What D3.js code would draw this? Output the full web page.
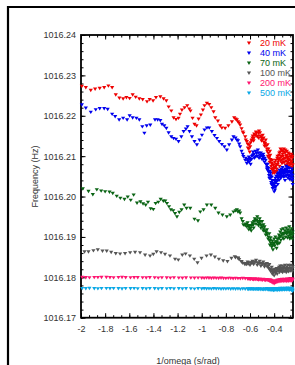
<!DOCTYPE html>
<html><head><meta charset="utf-8">
<script src="https://cdn.jsdelivr.net/npm/d3@7"></script>
<style>body{margin:0;background:#fff}svg{display:block}</style>
</head><body><svg id="c" width="295" height="365"></svg>
<script>
const seriesNames = ["20 mK","40 mK","70 mK","100 mK","200 mK","500 mK"];
const seriesColors = ["#ee0000","#0000ee","#0a6414","#555555","#ff1470","#0aa8e6"];
const xTicks = [-2,-1.8,-1.6,-1.4,-1.2,-1,-0.8,-0.6,-0.4];
const xTickLabels = ["-2","-1.8","-1.6","-1.4","-1.2","-1","-0.8","-0.6","-0.4"];
const yTicks = [1016.17,1016.18,1016.19,1016.20,1016.21,1016.22,1016.23,1016.24];
const yTickLabels = ["1016.17","1016.18","1016.19","1016.20","1016.21","1016.22","1016.23","1016.24"];

const s20 = [[-1.993,1016.2273],[-1.960,1016.2270],[-1.919,1016.2263],[-1.883,1016.2266],[-1.845,1016.2268],[-1.808,1016.2270],[-1.773,1016.2274],[-1.742,1016.2270],[-1.712,1016.2252],[-1.682,1016.2244],[-1.651,1016.2242],[-1.624,1016.2245],[-1.597,1016.2243],[-1.572,1016.2252],[-1.547,1016.2246],[-1.517,1016.2242],[-1.489,1016.2240],[-1.453,1016.2235],[-1.431,1016.2240],[-1.403,1016.2237],[-1.379,1016.2245],[-1.343,1016.2247],[-1.316,1016.2242],[-1.293,1016.2237],[-1.274,1016.2222],[-1.252,1016.2212],[-1.233,1016.2195],[-1.213,1016.2191],[-1.192,1016.2194],[-1.180,1016.2204],[-1.164,1016.2214],[-1.142,1016.2220],[-1.120,1016.2225],[-1.103,1016.2217],[-1.093,1016.2212],[-1.076,1016.2194],[-1.060,1016.2179],[-1.043,1016.2175],[-1.026,1016.2192],[-1.007,1016.2202],[-0.990,1016.2214],[-0.977,1016.2225],[-0.957,1016.2231],[-0.938,1016.2228],[-0.921,1016.2220],[-0.902,1016.2210],[-0.888,1016.2195],[-0.866,1016.2187],[-0.847,1016.2175],[-0.833,1016.2170],[-0.806,1016.2169],[-0.779,1016.2175],[-0.750,1016.2185],[-0.731,1016.2195],[-0.709,1016.2190],[-0.682,1016.2177],[-0.655,1016.2157],[-0.626,1016.2136],[-0.599,1016.2123],[-0.585,1016.2140],[-0.558,1016.2152],[-0.531,1016.2157],[-0.502,1016.2144],[-0.475,1016.2132],[-0.448,1016.2107],[-0.420,1016.2082],[-0.393,1016.2070],[-0.365,1016.2090],[-0.337,1016.2099],[-0.310,1016.2095],[-0.283,1016.2090],[-0.255,1016.2086],
[-0.62,1016.2130],[-0.61,1016.2118],[-0.595,1016.2133],[-0.58,1016.2145],[-0.57,1016.2138],[-0.565,1016.2155],[-0.55,1016.2160],[-0.54,1016.2148],[-0.525,1016.2162],[-0.515,1016.2150],[-0.505,1016.2138],[-0.495,1016.2152],[-0.485,1016.2135],[-0.48,1016.2125],[-0.47,1016.2140],[-0.46,1016.2118],[-0.455,1016.2128],[-0.44,1016.2100],[-0.435,1016.2112],[-0.43,1016.2092],[-0.425,1016.2075],[-0.415,1016.2090],[-0.41,1016.2065],[-0.405,1016.2078],[-0.40,1016.2058],[-0.395,1016.2085],[-0.385,1016.2075],[-0.38,1016.2062],[-0.375,1016.2095],[-0.37,1016.2080],[-0.36,1016.2102],[-0.355,1016.2075],[-0.35,1016.2110],[-0.345,1016.2088],[-0.34,1016.2115],[-0.335,1016.2082],[-0.33,1016.2105],[-0.325,1016.2092],[-0.32,1016.2118],[-0.315,1016.2085],[-0.31,1016.2108],[-0.305,1016.2078],[-0.30,1016.2100],[-0.295,1016.2112],[-0.29,1016.2085],[-0.285,1016.2098],[-0.28,1016.2075],[-0.275,1016.2105],[-0.27,1016.2090],[-0.265,1016.2080],[-0.26,1016.2100],[-0.255,1016.2072],[-0.25,1016.2095],[-0.247,1016.2078],
[-0.4475,1016.2118],[-0.4425,1016.2095],[-0.4375,1016.2085],[-0.4325,1016.2102],[-0.4275,1016.2088],[-0.4225,1016.2068],[-0.4175,1016.2080],[-0.4125,1016.2058],[-0.4075,1016.2070],[-0.4025,1016.2062],[-0.3975,1016.2072],[-0.3925,1016.2060],[-0.3875,1016.2090],[-0.3825,1016.2080],[-0.3775,1016.2068],[-0.3725,1016.2100],[-0.3675,1016.2085],[-0.3625,1016.2092],[-0.3575,1016.2108],[-0.3525,1016.2095],[-0.3475,1016.2118],[-0.3425,1016.2100],[-0.3375,1016.2090],[-0.3325,1016.2112],[-0.3275,1016.2100],[-0.3225,1016.2085],[-0.3175,1016.2110],[-0.3125,1016.2095],[-0.3075,1016.2115],[-0.3025,1016.2088],[-0.2975,1016.2102],[-0.2925,1016.2095],[-0.2875,1016.2080],[-0.2825,1016.2108],[-0.2775,1016.2092],[-0.2725,1016.2082],[-0.2675,1016.2098],[-0.2625,1016.2088],[-0.2575,1016.2105],[-0.2525,1016.2080],[-0.2485,1016.2100],
[-0.6175,1016.2120],[-0.6075,1016.2128],[-0.6025,1016.2110],[-0.5875,1016.2138],[-0.5775,1016.2150],[-0.5675,1016.2145],[-0.5575,1016.2152],[-0.5475,1016.2158],[-0.5375,1016.2150],[-0.5275,1016.2145],[-0.5175,1016.2158],[-0.5075,1016.2148],[-0.4975,1016.2140],[-0.4875,1016.2145],[-0.4775,1016.2130],[-0.4675,1016.2125],[-0.4575,1016.2112],[-0.4525,1016.2100],
[-0.72,1016.2192],[-0.70,1016.2185],[-0.69,1016.2182],[-0.67,1016.2168],[-0.66,1016.2160],[-0.64,1016.2148],[-0.635,1016.2140]];

const s40 = [[-1.993,1016.2227],[-1.960,1016.2219],[-1.919,1016.2209],[-1.878,1016.2215],[-1.845,1016.2218],[-1.808,1016.2218],[-1.779,1016.2216],[-1.742,1016.2204],[-1.717,1016.2198],[-1.684,1016.2190],[-1.651,1016.2194],[-1.618,1016.2190],[-1.597,1016.2200],[-1.572,1016.2195],[-1.541,1016.2194],[-1.517,1016.2190],[-1.492,1016.2173],[-1.475,1016.2157],[-1.456,1016.2175],[-1.426,1016.2177],[-1.387,1016.2190],[-1.365,1016.2190],[-1.343,1016.2188],[-1.329,1016.2179],[-1.310,1016.2175],[-1.293,1016.2169],[-1.274,1016.2158],[-1.252,1016.2148],[-1.233,1016.2144],[-1.213,1016.2142],[-1.192,1016.2136],[-1.169,1016.2148],[-1.150,1016.2161],[-1.131,1016.2167],[-1.117,1016.2173],[-1.101,1016.2161],[-1.081,1016.2148],[-1.060,1016.2136],[-1.040,1016.2128],[-1.018,1016.2140],[-0.998,1016.2152],[-0.977,1016.2165],[-0.957,1016.2170],[-0.938,1016.2170],[-0.916,1016.2161],[-0.894,1016.2151],[-0.874,1016.2144],[-0.855,1016.2136],[-0.833,1016.2129],[-0.812,1016.2123],[-0.792,1016.2115],[-0.773,1016.2128],[-0.750,1016.2140],[-0.737,1016.2148],[-0.709,1016.2140],[-0.682,1016.2123],[-0.655,1016.2099],[-0.626,1016.2082],[-0.599,1016.2090],[-0.572,1016.2103],[-0.544,1016.2107],[-0.517,1016.2103],[-0.489,1016.2099],[-0.461,1016.2078],[-0.434,1016.2053],[-0.407,1016.2024],[-0.393,1016.2016],[-0.379,1016.2037],[-0.351,1016.2053],[-0.324,1016.2062],[-0.296,1016.2066],[-0.269,1016.2062],[-0.247,1016.2053],
[-0.62,1016.2088],[-0.61,1016.2098],[-0.595,1016.2080],[-0.585,1016.2100],[-0.575,1016.2110],[-0.565,1016.2095],[-0.555,1016.2112],[-0.545,1016.2100],[-0.535,1016.2115],[-0.525,1016.2095],[-0.51,1016.2108],[-0.50,1016.2092],[-0.49,1016.2105],[-0.48,1016.2085],[-0.47,1016.2090],[-0.46,1016.2068],[-0.455,1016.2080],[-0.445,1016.2060],[-0.44,1016.2045],[-0.43,1016.2058],[-0.425,1016.2035],[-0.42,1016.2048],[-0.415,1016.2028],[-0.41,1016.2040],[-0.40,1016.2012],[-0.398,1016.2030],[-0.39,1016.2045],[-0.385,1016.2025],[-0.375,1016.2050],[-0.37,1016.2030],[-0.365,1016.2058],[-0.36,1016.2040],[-0.355,1016.2065],[-0.345,1016.2045],[-0.34,1016.2068],[-0.335,1016.2050],[-0.33,1016.2072],[-0.32,1016.2048],[-0.315,1016.2065],[-0.31,1016.2040],[-0.305,1016.2060],[-0.30,1016.2075],[-0.295,1016.2052],[-0.29,1016.2068],[-0.285,1016.2045],[-0.28,1016.2060],[-0.275,1016.2070],[-0.27,1016.2042],[-0.265,1016.2058],[-0.26,1016.2048],[-0.255,1016.2068],[-0.25,1016.2040],[-0.247,1016.2030],
[-0.6175,1016.2092],[-0.6075,1016.2085],[-0.6025,1016.2095],[-0.5875,1016.2092],[-0.5775,1016.2102],[-0.5675,1016.2105],[-0.5575,1016.2098],[-0.5475,1016.2108],[-0.5375,1016.2100],[-0.5275,1016.2108],[-0.5175,1016.2098],[-0.5075,1016.2102],[-0.4975,1016.2098],[-0.4875,1016.2092],[-0.4775,1016.2095],[-0.4675,1016.2080],[-0.4575,1016.2072],[-0.4525,1016.2065],[-0.4475,1016.2070],[-0.4425,1016.2052],[-0.4375,1016.2062],[-0.4325,1016.2045],[-0.4275,1016.2050],[-0.4225,1016.2030],[-0.4175,1016.2040],[-0.4125,1016.2020],[-0.4075,1016.2032],[-0.4025,1016.2025],[-0.3975,1016.2040],[-0.3925,1016.2022],[-0.3875,1016.2035],[-0.3825,1016.2050],[-0.3775,1016.2040],[-0.3725,1016.2055],[-0.3675,1016.2045],[-0.3625,1016.2050],[-0.3575,1016.2058],[-0.3525,1016.2048],[-0.3475,1016.2060],[-0.3425,1016.2055],[-0.3375,1016.2062],[-0.3325,1016.2058],[-0.3275,1016.2065],[-0.3225,1016.2055],[-0.3175,1016.2050],[-0.3125,1016.2058],[-0.3075,1016.2068],[-0.3025,1016.2050],[-0.2975,1016.2062],[-0.2925,1016.2058],[-0.2875,1016.2072],[-0.2825,1016.2052],[-0.2775,1016.2050],[-0.2725,1016.2062],[-0.2675,1016.2050],[-0.2625,1016.2060],[-0.2575,1016.2055],[-0.2525,1016.2062],[-0.2485,1016.2045],
[-0.72,1016.2145],[-0.70,1016.2138],[-0.69,1016.2130],[-0.67,1016.2112],[-0.66,1016.2105],[-0.64,1016.2090],[-0.635,1016.2095]];

const s70 = [[-1.985,1016.2019],[-1.938,1016.2013],[-1.902,1016.2005],[-1.869,1016.2017],[-1.833,1016.2014],[-1.800,1016.2012],[-1.764,1016.2011],[-1.737,1016.2008],[-1.704,1016.2001],[-1.674,1016.1996],[-1.640,1016.1993],[-1.613,1016.1999],[-1.588,1016.1991],[-1.564,1016.2004],[-1.536,1016.1984],[-1.508,1016.1987],[-1.486,1016.1982],[-1.464,1016.1979],[-1.445,1016.1986],[-1.423,1016.1970],[-1.401,1016.1968],[-1.382,1016.1983],[-1.360,1016.1986],[-1.340,1016.1993],[-1.318,1016.1989],[-1.302,1016.1989],[-1.288,1016.1983],[-1.271,1016.1975],[-1.255,1016.1967],[-1.236,1016.1965],[-1.221,1016.1958],[-1.205,1016.1950],[-1.186,1016.1961],[-1.167,1016.1967],[-1.145,1016.1979],[-1.126,1016.1971],[-1.095,1016.1971],[-1.060,1016.1944],[-1.031,1016.1940],[-1.012,1016.1962],[-0.985,1016.1967],[-0.957,1016.1979],[-0.921,1016.1979],[-0.888,1016.1971],[-0.861,1016.1959],[-0.828,1016.1954],[-0.792,1016.1950],[-0.764,1016.1954],[-0.737,1016.1962],[-0.709,1016.1967],[-0.682,1016.1959],[-0.655,1016.1930],[-0.626,1016.1925],[-0.599,1016.1921],[-0.572,1016.1930],[-0.544,1016.1942],[-0.517,1016.1938],[-0.489,1016.1930],[-0.461,1016.1909],[-0.434,1016.1892],[-0.407,1016.1884],[-0.379,1016.1888],[-0.351,1016.1901],[-0.324,1016.1909],[-0.296,1016.1913],[-0.269,1016.1909],[-0.250,1016.1905],
[-0.62,1016.1935],[-0.61,1016.1918],[-0.60,1016.1928],[-0.59,1016.1915],[-0.58,1016.1935],[-0.57,1016.1922],[-0.56,1016.1945],[-0.55,1016.1932],[-0.54,1016.1950],[-0.53,1016.1928],[-0.52,1016.1945],[-0.51,1016.1922],[-0.50,1016.1938],[-0.49,1016.1915],[-0.48,1016.1925],[-0.47,1016.1905],[-0.46,1016.1918],[-0.45,1016.1895],[-0.44,1016.1908],[-0.435,1016.1880],[-0.43,1016.1898],[-0.42,1016.1875],[-0.415,1016.1890],[-0.41,1016.1868],[-0.40,1016.1895],[-0.395,1016.1878],[-0.39,1016.1900],[-0.38,1016.1872],[-0.375,1016.1895],[-0.37,1016.1882],[-0.36,1016.1905],[-0.355,1016.1885],[-0.35,1016.1912],[-0.345,1016.1892],[-0.34,1016.1918],[-0.33,1016.1898],[-0.325,1016.1920],[-0.32,1016.1895],[-0.31,1016.1915],[-0.305,1016.1900],[-0.30,1016.1922],[-0.29,1016.1898],[-0.285,1016.1918],[-0.28,1016.1902],[-0.275,1016.1925],[-0.27,1016.1895],[-0.265,1016.1915],[-0.26,1016.1900],[-0.255,1016.1920],[-0.25,1016.1895],[-0.247,1016.1912],
[-0.6175,1016.1928],[-0.6075,1016.1925],[-0.5975,1016.1920],[-0.5875,1016.1928],[-0.5775,1016.1930],[-0.5675,1016.1938],[-0.5575,1016.1940],[-0.5475,1016.1942],[-0.5375,1016.1938],[-0.5275,1016.1935],[-0.5175,1016.1932],[-0.5075,1016.1928],[-0.4975,1016.1925],[-0.4875,1016.1920],[-0.4775,1016.1915],[-0.4675,1016.1912],[-0.4575,1016.1905],[-0.4475,1016.1900],[-0.4375,1016.1890],[-0.4275,1016.1885],[-0.4175,1016.1880],[-0.4075,1016.1880],[-0.3975,1016.1885],[-0.3875,1016.1888],[-0.3775,1016.1885],[-0.3675,1016.1895],[-0.3575,1016.1898],[-0.3475,1016.1902],[-0.3375,1016.1908],[-0.3275,1016.1905],[-0.3175,1016.1908],[-0.3075,1016.1910],[-0.2975,1016.1908],[-0.2875,1016.1910],[-0.2775,1016.1912],[-0.2675,1016.1905],[-0.2575,1016.1910],[-0.2485,1016.1905],
[-0.72,1016.1965],[-0.70,1016.1962],[-0.69,1016.1964],[-0.67,1016.1945],[-0.66,1016.1938],[-0.64,1016.1928],[-0.635,1016.1932]];

const s100 = [[-1.971,1016.1863],[-1.938,1016.1863],[-1.897,1016.1866],[-1.861,1016.1868],[-1.822,1016.1865],[-1.787,1016.1865],[-1.750,1016.1862],[-1.712,1016.1859],[-1.676,1016.1858],[-1.635,1016.1859],[-1.593,1016.1861],[-1.552,1016.1862],[-1.511,1016.1861],[-1.469,1016.1855],[-1.428,1016.1853],[-1.401,1016.1857],[-1.374,1016.1863],[-1.337,1016.1861],[-1.304,1016.1857],[-1.263,1016.1853],[-1.221,1016.1845],[-1.194,1016.1843],[-1.161,1016.1855],[-1.134,1016.1858],[-1.098,1016.1853],[-1.062,1016.1845],[-1.035,1016.1836],[-1.002,1016.1847],[-0.960,1016.1853],[-0.924,1016.1855],[-0.891,1016.1850],[-0.858,1016.1845],[-0.822,1016.1841],[-0.787,1016.1839],[-0.754,1016.1847],[-0.726,1016.1851],[-0.698,1016.1847],[-0.671,1016.1839],[-0.643,1016.1832],[-0.616,1016.1833],[-0.588,1016.1836],[-0.560,1016.1838],[-0.533,1016.1836],[-0.506,1016.1835],[-0.478,1016.1833],[-0.450,1016.1828],[-0.423,1016.1818],[-0.409,1016.1810],[-0.382,1016.1814],[-0.354,1016.1820],[-0.326,1016.1822],[-0.299,1016.1820],[-0.258,1016.1822],
[-0.62,1016.1838],[-0.60,1016.1830],[-0.58,1016.1840],[-0.57,1016.1832],[-0.55,1016.1842],[-0.54,1016.1830],[-0.52,1016.1840],[-0.51,1016.1828],[-0.49,1016.1838],[-0.48,1016.1826],[-0.46,1016.1834],[-0.445,1016.1822],[-0.44,1016.1832],[-0.43,1016.1815],[-0.42,1016.1825],[-0.415,1016.1808],[-0.41,1016.1818],[-0.40,1016.1804],[-0.395,1016.1820],[-0.39,1016.1810],[-0.38,1016.1822],[-0.375,1016.1808],[-0.37,1016.1818],[-0.36,1016.1825],[-0.355,1016.1812],[-0.35,1016.1828],[-0.34,1016.1815],[-0.335,1016.1828],[-0.33,1016.1812],[-0.32,1016.1826],[-0.315,1016.1815],[-0.31,1016.1830],[-0.30,1016.1812],[-0.295,1016.1826],[-0.29,1016.1816],[-0.285,1016.1830],[-0.28,1016.1814],[-0.27,1016.1828],[-0.265,1016.1816],[-0.26,1016.1830],[-0.25,1016.1815],[-0.247,1016.1826],
[-0.6175,1016.1835],[-0.5975,1016.1836],[-0.5775,1016.1836],[-0.5575,1016.1838],[-0.5375,1016.1835],[-0.5175,1016.1834],[-0.4975,1016.1832],[-0.4775,1016.1830],[-0.4575,1016.1826],[-0.4475,1016.1828],[-0.4375,1016.1820],[-0.4275,1016.1818],[-0.4175,1016.1815],[-0.4075,1016.1812],[-0.3975,1016.1814],[-0.3875,1016.1816],[-0.3775,1016.1815],[-0.3675,1016.1820],[-0.3575,1016.1818],[-0.3475,1016.1822],[-0.3375,1016.1820],[-0.3275,1016.1820],[-0.3175,1016.1822],[-0.3075,1016.1820],[-0.2975,1016.1822],[-0.2875,1016.1820],[-0.2775,1016.1822],[-0.2675,1016.1822],[-0.2575,1016.1820],[-0.2485,1016.1822],
[-0.72,1016.1849],[-0.70,1016.1848],[-0.69,1016.1844],[-0.67,1016.1838],[-0.66,1016.1835],[-0.64,1016.1834],[-0.63,1016.1832]];

const s200 = [[-1.99,1016.18000],[-1.96,1016.17995],[-1.93,1016.17990],[-1.89,1016.17998],[-1.86,1016.17997],[-1.83,1016.18000],[-1.79,1016.18000],[-1.76,1016.17996],[-1.73,1016.17992],[-1.69,1016.17998],[-1.66,1016.18000],[-1.63,1016.17995],[-1.59,1016.17990],[-1.56,1016.17996],[-1.53,1016.17994],[-1.49,1016.17990],[-1.46,1016.17988],[-1.43,1016.17994],[-1.39,1016.17992],[-1.36,1016.17986],[-1.33,1016.17990],[-1.29,1016.17988],[-1.26,1016.17984],[-1.23,1016.17990],[-1.19,1016.17986],[-1.16,1016.17982],[-1.13,1016.17988],[-1.09,1016.17984],[-1.06,1016.17980],[-1.03,1016.17986],[-1.00,1016.17982],[-0.98,1016.17978],[-0.96,1016.17984],[-0.94,1016.17980],[-0.92,1016.17976],[-0.90,1016.17982],[-0.88,1016.17978],[-0.86,1016.17974],[-0.84,1016.17980],[-0.82,1016.17976],[-0.80,1016.17972],[-0.78,1016.17978],[-0.76,1016.17974],[-0.74,1016.17970],[-0.72,1016.17976],[-0.70,1016.17972],[-0.68,1016.17968],[-0.66,1016.17974],[-0.64,1016.17970],[-0.62,1016.17966],
[-0.61,1016.17962],[-0.60,1016.17950],[-0.59,1016.17966],[-0.58,1016.17955],[-0.57,1016.17944],[-0.56,1016.17962],[-0.55,1016.17948],[-0.54,1016.17958],[-0.53,1016.17940],[-0.52,1016.17956],[-0.51,1016.17944],[-0.50,1016.17930],[-0.49,1016.17952],[-0.48,1016.17936],[-0.47,1016.17922],[-0.46,1016.17946],[-0.45,1016.17928],[-0.44,1016.17912],[-0.435,1016.17938],[-0.43,1016.17900],[-0.425,1016.17926],[-0.42,1016.17880],[-0.415,1016.17918],[-0.41,1016.17860],[-0.405,1016.17905],[-0.40,1016.17845],[-0.395,1016.17890],[-0.39,1016.17870],[-0.385,1016.17915],[-0.38,1016.17880],[-0.375,1016.17930],[-0.37,1016.17888],[-0.365,1016.17935],[-0.36,1016.17895],[-0.355,1016.17940],[-0.35,1016.17900],[-0.345,1016.17945],[-0.34,1016.17905],[-0.335,1016.17950],[-0.33,1016.17910],[-0.325,1016.17948],[-0.32,1016.17902],[-0.315,1016.17955],[-0.31,1016.17912],[-0.305,1016.17945],[-0.30,1016.17900],[-0.295,1016.17958],[-0.29,1016.17915],[-0.285,1016.17950],[-0.28,1016.17905],[-0.275,1016.17960],[-0.27,1016.17918],[-0.265,1016.17952],[-0.26,1016.17908],[-0.255,1016.17962],[-0.25,1016.17920],[-0.247,1016.17955],
[-0.6175,1016.17960],[-0.5975,1016.17958],[-0.5775,1016.17955],[-0.5575,1016.17950],[-0.5375,1016.17948],[-0.5175,1016.17945],[-0.4975,1016.17940],[-0.4775,1016.17938],[-0.4575,1016.17932],[-0.4475,1016.17925],[-0.4375,1016.17915],[-0.4275,1016.17905],[-0.4175,1016.17895],[-0.4075,1016.17885],[-0.3975,1016.17875],[-0.3875,1016.17895],[-0.3775,1016.17905],[-0.3675,1016.17915],[-0.3575,1016.17920],[-0.3475,1016.17925],[-0.3375,1016.17928],[-0.3275,1016.17930],[-0.3175,1016.17932],[-0.3075,1016.17930],[-0.2975,1016.17935],[-0.2875,1016.17932],[-0.2775,1016.17935],[-0.2675,1016.17933],[-0.2575,1016.17938],[-0.2485,1016.17935]];

const s500 = [[-1.99,1016.17725],[-1.96,1016.17720],[-1.93,1016.17728],[-1.89,1016.17722],[-1.86,1016.17718],[-1.83,1016.17726],[-1.79,1016.17724],[-1.76,1016.17720],[-1.73,1016.17726],[-1.69,1016.17722],[-1.66,1016.17716],[-1.63,1016.17724],[-1.59,1016.17720],[-1.56,1016.17726],[-1.53,1016.17718],[-1.49,1016.17722],[-1.46,1016.17716],[-1.43,1016.17724],[-1.39,1016.17720],[-1.36,1016.17714],[-1.33,1016.17722],[-1.29,1016.17718],[-1.26,1016.17724],[-1.23,1016.17716],[-1.19,1016.17720],[-1.16,1016.17714],[-1.13,1016.17722],[-1.09,1016.17718],[-1.06,1016.17712],[-1.03,1016.17720],[-1.00,1016.17716],[-0.98,1016.17722],[-0.96,1016.17714],[-0.94,1016.17718],[-0.92,1016.17712],[-0.90,1016.17720],[-0.88,1016.17714],[-0.86,1016.17718],[-0.84,1016.17710],[-0.82,1016.17716],[-0.80,1016.17712],[-0.78,1016.17718],[-0.76,1016.17708],[-0.74,1016.17714],[-0.72,1016.17710],[-0.70,1016.17716],[-0.68,1016.17706],[-0.66,1016.17714],[-0.64,1016.17708],[-0.62,1016.17716],[-0.61,1016.17704],[-0.60,1016.17714],[-0.59,1016.17706],[-0.58,1016.17718],[-0.57,1016.17702],[-0.56,1016.17712],[-0.55,1016.17700],[-0.54,1016.17716],[-0.53,1016.17704],[-0.52,1016.17718],[-0.51,1016.17698],[-0.50,1016.17712],[-0.49,1016.17694],[-0.48,1016.17716],[-0.47,1016.17696],[-0.46,1016.17720],[-0.45,1016.17692],[-0.44,1016.17714],[-0.435,1016.17688],[-0.43,1016.17718],[-0.425,1016.17682],[-0.42,1016.17712],[-0.415,1016.17690],[-0.41,1016.17722],[-0.405,1016.17676],[-0.40,1016.17710],[-0.395,1016.17685],[-0.39,1016.17724],[-0.385,1016.17692],[-0.38,1016.17716],[-0.375,1016.17680],[-0.37,1016.17726],[-0.365,1016.17695],[-0.36,1016.17718],[-0.355,1016.17684],[-0.35,1016.17728],[-0.345,1016.17698],[-0.34,1016.17716],[-0.335,1016.17686],[-0.33,1016.17730],[-0.325,1016.17700],[-0.32,1016.17720],[-0.315,1016.17688],[-0.31,1016.17732],[-0.305,1016.17704],[-0.30,1016.17722],[-0.295,1016.17690],[-0.29,1016.17734],[-0.285,1016.17700],[-0.28,1016.17718],[-0.275,1016.17684],[-0.27,1016.17730],[-0.265,1016.17696],[-0.26,1016.17724],[-0.255,1016.17680],[-0.25,1016.17728],[-0.247,1016.17660],
[-0.6175,1016.17710],[-0.5975,1016.17710],[-0.5775,1016.17708],[-0.5575,1016.17706],[-0.5375,1016.17710],[-0.5175,1016.17706],[-0.4975,1016.17704],[-0.4775,1016.17706],[-0.4575,1016.17705],[-0.4475,1016.17700],[-0.4375,1016.17702],[-0.4275,1016.17698],[-0.4175,1016.17700],[-0.4075,1016.17695],[-0.3975,1016.17700],[-0.3875,1016.17706],[-0.3775,1016.17704],[-0.3675,1016.17708],[-0.3575,1016.17706],[-0.3475,1016.17710],[-0.3375,1016.17708],[-0.3275,1016.17712],[-0.3175,1016.17708],[-0.3075,1016.17714],[-0.2975,1016.17710],[-0.2875,1016.17712],[-0.2775,1016.17708],[-0.2675,1016.17712],[-0.2575,1016.17706],[-0.2485,1016.17700]];

const seriesData = [s20, s40, s70, s100, s200, s500];

const svg = d3.select("#c");
const L = 81, R = 293, T = 35, B = 317.7;
const x = d3.scaleLinear().domain([-2, -0.244]).range([L, R]);
const y = d3.scaleLinear().domain([1016.17, 1016.24]).range([B, T]);

// outer frame
svg.append("path").attr("d", "M8,370V7H300").attr("fill", "none").attr("stroke", "#000").attr("stroke-width", 2.2);

const font = "'Liberation Sans', Arial, sans-serif";
const xMinor = d3.range(0, 27).map(i => -2 + i * 0.2 / 3).filter(v => v <= -0.244);
const yMinor = d3.range(0, 36).map(i => 1016.17 + i * 0.002);

function styleAxis(g) {
  g.select(".domain").remove();
  g.selectAll("line").attr("stroke", "#000").attr("stroke-width", 1);
  g.selectAll("text").attr("fill", "#333").style("font-family", font).style("font-size", "9px");
}
svg.append("g").attr("transform", `translate(0,${B})`)
  .call(d3.axisBottom(x).tickValues(xMinor).tickFormat("").tickSize(-2.5)).call(styleAxis);
svg.append("g").attr("transform", `translate(0,${B})`)
  .call(d3.axisBottom(x).tickValues(xTicks).tickFormat((d, i) => xTickLabels[i]).tickSize(-4.5).tickPadding(8.4)).call(styleAxis);
svg.append("g").attr("transform", `translate(0,${T})`)
  .call(d3.axisTop(x).tickValues(xMinor).tickFormat("").tickSize(-2.5)).call(styleAxis);
svg.append("g").attr("transform", `translate(0,${T})`)
  .call(d3.axisTop(x).tickValues(xTicks).tickFormat("").tickSize(-4.5)).call(styleAxis);
svg.append("g").attr("transform", `translate(${L},0)`)
  .call(d3.axisLeft(y).tickValues(yMinor).tickFormat("").tickSize(-2.5)).call(styleAxis);
svg.append("g").attr("transform", `translate(${L},0)`)
  .call(d3.axisLeft(y).tickValues(yTicks).tickFormat((d, i) => yTickLabels[i]).tickSize(-4.5).tickPadding(5)).call(styleAxis);
svg.append("g").attr("transform", `translate(${R},0)`)
  .call(d3.axisRight(y).tickValues(yMinor).tickFormat("").tickSize(-2.5)).call(styleAxis);
svg.append("g").attr("transform", `translate(${R},0)`)
  .call(d3.axisRight(y).tickValues(yTicks).tickFormat("").tickSize(-4.5)).call(styleAxis);

svg.append("rect").attr("x", L).attr("y", T).attr("width", R - L).attr("height", B - T)
  .attr("fill", "none").attr("stroke", "#000").attr("stroke-width", 1.8);

const tri = "M-2.1,-1.5L2.1,-1.5L0,1.9Z";
seriesData.forEach((data, si) => {
  svg.append("g").selectAll("path").data(data).join("path")
    .attr("d", tri)
    .attr("transform", d => `translate(${x(d[0])},${y(d[1])})`)
    .attr("fill", seriesColors[si]);
});

const lg = svg.append("g");
seriesNames.forEach((n, i) => {
  const yy = 43 + i * 10;
  lg.append("path").attr("d", tri).attr("transform", `translate(249,${yy})`).attr("fill", seriesColors[i]);
  lg.append("text").attr("x", 260).attr("y", yy).attr("dy", "0.35em").text(n)
    .attr("fill", seriesColors[i]).style("font-family", font).style("font-size", "9px");
});

svg.append("text").attr("transform", "translate(35,176.5) rotate(-90)").attr("text-anchor", "middle")
  .attr("dy", "0.35em").text("Frequency (Hz)").attr("fill", "#333").style("font-family", font).style("font-size", "9px");
svg.append("text").attr("x", 188).attr("y", 361).attr("text-anchor", "middle").attr("dy", "0.35em")
  .text("1/omega (s/rad)").attr("fill", "#333").style("font-family", font).style("font-size", "9px");
</script></body></html>
